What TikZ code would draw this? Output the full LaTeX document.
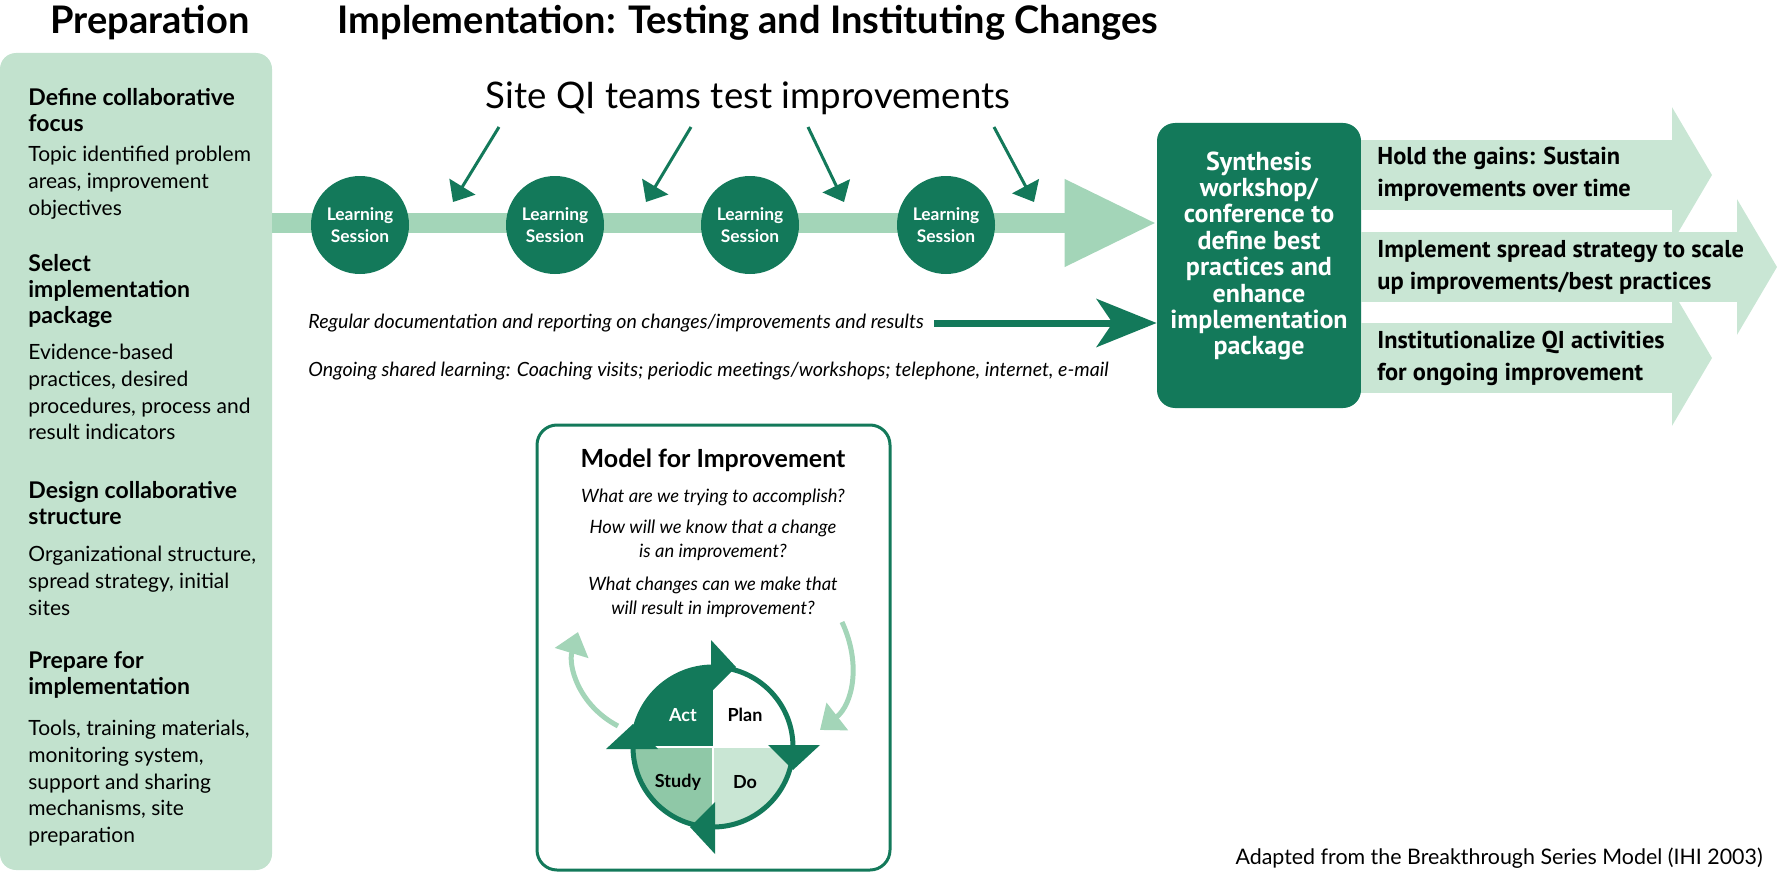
\documentclass[tikz,border=0pt]{standalone}
\usepackage{fontspec}
\setmainfont{Lato}
\newfontfamily\boxfont{PT Sans}
\usetikzlibrary{arrows.meta}
\definecolor{dkgreen}{HTML}{13795A}
\definecolor{bandgreen}{HTML}{A3D5B8}
\definecolor{panelgreen}{HTML}{C2E2CE}
\definecolor{palegreen}{HTML}{C9E6D4}
\definecolor{studygreen}{HTML}{8FC8A7}
\newcommand\session[2]{\node[session](#1)at(#2){Learning\\Session};}

\begin{document}
\begin{tikzpicture}[x=0.5pt,y=-0.5pt]
\useasboundingbox (0,0) rectangle (1777,872);
% Styles for boxes and texts
\tikzstyle{title}=[font=\bfseries\fontsize{19}{22}\selectfont];
\tikzstyle{panel}=[fill=panelgreen,rounded corners=8pt,minimum width=136pt,minimum height=408.5pt,inner sep=0];
\tikzstyle{head}=[anchor=north west,inner sep=0,align=left,font=\bfseries\fontsize{11.5}{13}\selectfont];
\tikzstyle{body}=[anchor=north west,inner sep=0,align=left,font=\fontsize{10.5}{13.3}\selectfont];
\tikzstyle{session}=[circle,fill=dkgreen,text=white,minimum size=49pt,inner sep=0,align=center,font=\bfseries\fontsize{8.7}{11}\selectfont];
\tikzstyle{synth}=[fill=dkgreen,rounded corners=9pt,minimum width=102pt,minimum height=142.5pt];
\tikzstyle{synth text}=[text=white,align=center,font=\boxfont\bfseries\fontsize{13}{13.2}\selectfont];
\tikzstyle{gain}=[anchor=west,inner sep=0,align=left,font=\boxfont\bfseries\fontsize{12.2}{16}\selectfont];
\tikzstyle{note}=[anchor=west,inner sep=0,font=\itshape\fontsize{9.8}{11}\selectfont];
\tikzstyle{question}=[align=center,inner sep=0,font=\itshape\fontsize{9.2}{12}\selectfont];
\tikzstyle{quarter}=[font=\bfseries\fontsize{9}{11}\selectfont];
% Arrow styles
\tikzstyle{band}=[draw=bandgreen,line width=10pt,-{Triangle[length=46pt,width=41pt]}];
\tikzstyle{gain arrow}=[draw=palegreen,line width=35pt,-{Triangle[length=20pt,width=67pt]}];
\tikzstyle{test arrow}=[draw=dkgreen,line width=1.5pt,-{Triangle[length=9pt,width=15pt]}];
\tikzstyle{doc arrow}=[draw=dkgreen,line width=3.5pt,-{Stealth[length=30pt,width=24pt,inset=8pt]}];
\tikzstyle{cycle arrow}=[draw=bandgreen,line width=2.5pt,-{Triangle[length=11pt,width=17pt]}];

% Titles
\node[title](preptitle)at(150,23){Preparation};
\node[title](impltitle)at(748,23){Implementation: Testing and Instituting Changes};

% Preparation panel
\node[panel](prep)at(136,461.5){};
\node[head](h1)at(28,88){Define collaborative\\focus};
\node[body](b1)at(28,146){Topic identified problem\\areas, improvement\\objectives};
\node[head](h2)at(28,254){Select\\implementation\\package};
\node[body](b2)at(28,344){Evidence-based\\practices, desired\\procedures, process and\\result indicators};
\node[head](h3)at(28,481){Design collaborative\\structure};
\node[body](b3)at(28,546){Organizational structure,\\spread strategy, initial\\sites};
\node[head](h4)at(28,651){Prepare for\\implementation};
\node[body](b4)at(28,720){Tools, training materials,\\monitoring system,\\support and sharing\\mechanisms, site\\preparation};

% Synthesis workshop
\node[synth](synth)at(1259,265.5){};
\node[synth text](synthtext)at(1259,256){Synthesis\\workshop/\\conference to\\define best\\practices and\\enhance\\implementation\\package};

% Main band with learning sessions
\coordinate(bandy)at(0,223);
\draw[band](prep.east|-bandy)--(synth.west|-bandy);
\session{ls1}{360,225}
\session{ls2}{555,225}
\session{ls3}{750,225}
\session{ls4}{946,225}

% Site teams test improvements
\node[font=\fontsize{18.3}{22}\selectfont](site)at(748,98){Site QI teams test improvements};
\foreach \i/\sx/\ex in {1/499/453,2/691/646,3/808/844,4/994/1034}{
\coordinate(t\i)at(\sx,127);
\coordinate(e\i)at(\ex,202);
\draw[test arrow](t\i)--(e\i);
}

% Reporting and shared learning
\node[note](doc)at(308,323){Regular documentation and reporting on changes/improvements and results};
\draw[doc arrow]([xshift=5pt]doc.east)--(synth.west|-doc.east);
\node[note](shared)at(308,371){Ongoing shared learning: Coaching visits; periodic meetings/workshops; telephone, internet, e-mail};

% Holding and spreading the gains
\coordinate(holdtip)at(1712,175);
\coordinate(spreadtip)at(1777,267);
\coordinate(insttip)at(1712,358);
\draw[gain arrow](synth.east|-holdtip)--(holdtip);
\draw[gain arrow](synth.east|-spreadtip)--(spreadtip);
\draw[gain arrow](synth.east|-insttip)--(insttip);
\node[gain](hold)at(1377,174){Hold the gains: Sustain\\improvements over time};
\node[gain](spread)at(1377,267){Implement spread strategy to scale\\up improvements/best practices};
\node[gain](inst)at(1377,358){Institutionalize QI activities\\for ongoing improvement};

% Model for improvement
\node[draw=dkgreen,line width=1.5pt,rounded corners=10pt,minimum width=176.5pt,minimum height=222.5pt](model)at(713.5,647.5){};
\node[font=\bfseries\fontsize{12.5}{14}\selectfont](modeltitle)at(713,460){Model for Improvement};
\node[question](q1)at(713,497){What are we trying to accomplish?};
\node[question](q2)at(713,540){How will we know that a change\\is an improvement?};
\node[question](q3)at(713,597){What changes can we make that\\will result in improvement?};

% PDCA cycle
\coordinate(pdca)at(713,747);
\fill[dkgreen](pdca)--++(-40pt,0)arc[start angle=180,end angle=90,radius=40pt]--cycle;
\fill[white](pdca)--++(0,40pt)arc[start angle=90,end angle=0,radius=40pt]--cycle;
\fill[palegreen](pdca)--++(40pt,0)arc[start angle=0,end angle=-90,radius=40pt]--cycle;
\fill[studygreen](pdca)--++(0,-40pt)arc[start angle=-90,end angle=-180,radius=40pt]--cycle;
\draw[white,line width=1pt](pdca)--++(0,-40pt) (pdca)--++(-40pt,0) (pdca)--++(40pt,0);
\draw[dkgreen,line width=2.5pt](pdca)circle[radius=40pt];
\foreach \a in {0,-90,-180,-270}
\fill[dkgreen,shift={(pdca)},rotate=\a](-2,-107)--(-2,-55)--(23,-80)--cycle;
\node[quarter,text=white](act)at(683,715){Act};
\node[quarter](plan)at(745,715){Plan};
\node[quarter](study)at(678,782){Study};
\node[quarter](do)at(745,782){Do};
\coordinate(lfrom)at(618,726);
\coordinate(lto)at(578,632);
\coordinate(rfrom)at(842,622);
\coordinate(rto)at(820,730);
\draw[cycle arrow](lfrom)..controls(578,705)and(568,665)..(lto);
\draw[cycle arrow](rfrom)..controls(862,665)and(852,705)..(rto);

% Source
\node[anchor=base east,inner sep=0,font=\fontsize{10.7}{12}\selectfont](credit)at(1763,864){Adapted from the Breakthrough Series Model (IHI 2003)};
\end{tikzpicture}
\end{document}
